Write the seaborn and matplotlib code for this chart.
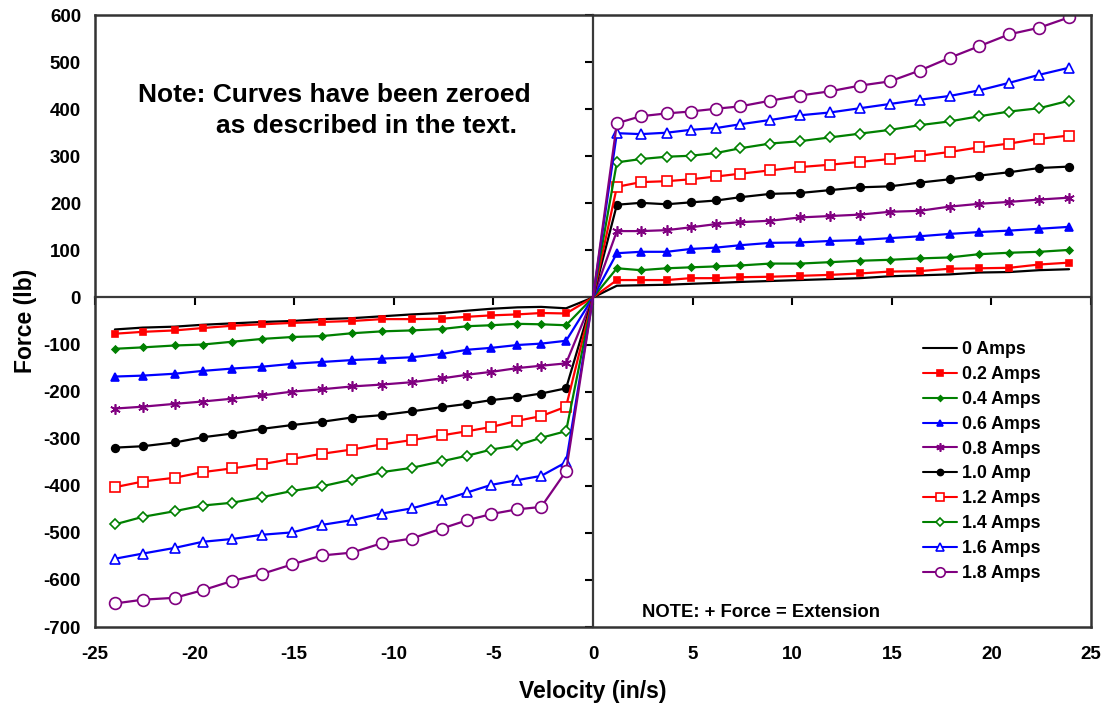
import matplotlib
matplotlib.use("Agg")
import matplotlib.pyplot as plt
import seaborn as sns
import numpy as np
import pandas as pd

sns.set_style("white")
plt.rcParams['font.family'] = ['Liberation Sans', 'DejaVu Sans']
plt.rcParams['font.weight'] = 'bold'
plt.rcParams['text.color'] = 'black'
plt.rcParams['axes.labelcolor'] = 'black'
plt.rcParams['xtick.color'] = 'black'
plt.rcParams['ytick.color'] = 'black'

# ---- data ----
vel_neg = [-24.0, -22.6, -21.0, -19.6, -18.1, -16.6, -15.1, -13.6, -12.1, -10.6,
           -9.1, -7.6, -6.3, -5.1, -3.8, -2.6, -1.35]
vel_pos = [1.2, 2.4, 3.7, 4.9, 6.2, 7.4, 8.9, 10.4, 11.9, 13.4, 14.9, 16.4, 17.9,
           19.4, 20.9, 22.4, 23.9]

amps_0_neg = [-68, -64, -62, -58, -55, -52, -50, -46, -44, -40, -36, -33, -28, -24, -21, -20, -23]
amps_0_pos = [25, 26, 27, 29, 31, 33, 35, 37, 39, 41, 45, 47, 49, 53, 54, 58, 60]
amps_02_neg = [-77, -73, -70, -65, -60, -57, -54, -52, -50, -46, -46, -45, -41, -38, -36, -33, -34]
amps_02_pos = [37, 37, 37, 41, 41, 43, 44, 46, 48, 51, 55, 56, 61, 62, 63, 70, 74]
amps_04_neg = [-109, -106, -102, -100, -94, -88, -84, -82, -76, -72, -70, -67, -61, -59, -56, -57, -59]
amps_04_pos = [62, 58, 62, 64, 66, 68, 72, 72, 75, 78, 80, 83, 85, 92, 95, 97, 101]
amps_06_neg = [-168, -166, -162, -156, -151, -147, -141, -137, -133, -130, -127, -120, -111, -107, -101, -98, -92]
amps_06_pos = [94, 97, 97, 103, 106, 111, 116, 117, 120, 122, 126, 130, 135, 139, 142, 146, 150]
amps_08_neg = [-236, -232, -226, -221, -215, -208, -200, -195, -189, -185, -180, -172, -164, -158, -150, -145, -140]
amps_08_pos = [141, 141, 143, 149, 156, 160, 163, 170, 173, 176, 182, 184, 193, 199, 203, 208, 212]
amps_10_neg = [-319, -316, -308, -297, -289, -279, -271, -264, -255, -250, -242, -233, -226, -218, -212, -204, -193]
amps_10_pos = [197, 201, 198, 202, 206, 213, 220, 222, 228, 234, 236, 244, 251, 259, 266, 275, 278]
amps_12_neg = [-403, -391, -383, -371, -363, -354, -343, -332, -323, -312, -303, -293, -284, -275, -262, -252, -232]
amps_12_pos = [235, 245, 247, 251, 257, 263, 270, 277, 282, 288, 294, 301, 309, 319, 327, 337, 344]
amps_14_neg = [-482, -466, -454, -442, -436, -424, -411, -401, -387, -371, -362, -348, -336, -323, -314, -298, -284]
amps_14_pos = [287, 294, 299, 301, 307, 317, 327, 332, 340, 348, 356, 366, 374, 385, 395, 402, 418]
amps_16_neg = [-555, -544, -532, -519, -513, -504, -499, -483, -473, -459, -448, -431, -414, -398, -388, -379, -350]
amps_16_pos = [349, 347, 350, 356, 360, 368, 377, 387, 393, 402, 411, 420, 428, 440, 456, 473, 488]
amps_18_neg = [-650, -642, -638, -622, -602, -587, -567, -548, -542, -522, -512, -491, -473, -460, -450, -445, -369]
amps_18_pos = [370, 385, 391, 395, 401, 406, 418, 429, 438, 450, 459, 482, 509, 534, 559, 573, 595]

labels = ["0 Amps", "0.2 Amps", "0.4 Amps", "0.6 Amps", "0.8 Amps",
          "1.0 Amp", "1.2 Amps", "1.4 Amps", "1.6 Amps", "1.8 Amps"]
series_neg = [amps_0_neg, amps_02_neg, amps_04_neg, amps_06_neg, amps_08_neg,
              amps_10_neg, amps_12_neg, amps_14_neg, amps_16_neg, amps_18_neg]
series_pos = [amps_0_pos, amps_02_pos, amps_04_pos, amps_06_pos, amps_08_pos,
              amps_10_pos, amps_12_pos, amps_14_pos, amps_16_pos, amps_18_pos]

x_ticks = [-25, -20, -15, -10, -5, 0, 5, 10, 15, 20, 25]
y_ticks = [-700, -600, -500, -400, -300, -200, -100, 0, 100, 200, 300, 400, 500, 600]

# ---- styles ----
RED, GREEN, BLUE, PURPLE = "#FF0000", "#008000", "#0000FF", "#800080"
styles = [
    dict(color="black", marker=None, ms=0, mfc="black"),
    dict(color=RED, marker="s", ms=5, mfc=RED),
    dict(color=GREEN, marker="D", ms=3.5, mfc=GREEN),
    dict(color=BLUE, marker="^", ms=6, mfc=BLUE),
    dict(color=PURPLE, marker=(6, 2, 0), ms=7.5, mfc=PURPLE),
    dict(color="black", marker="o", ms=5.5, mfc="black"),
    dict(color=RED, marker="s", ms=6.5, mfc="white"),
    dict(color=GREEN, marker="D", ms=5.5, mfc="white"),
    dict(color=BLUE, marker="^", ms=7.5, mfc="white"),
    dict(color=PURPLE, marker="o", ms=8.5, mfc="white"),
]

fig = plt.figure(figsize=(11.03, 7.08), dpi=100)
pos = [0.0861, 0.1144, 0.9030, 0.8644]

# background axes: zero-crossing axis lines with tick marks
axb = fig.add_axes(pos)
axb.set_xlim(-25, 25)
axb.set_ylim(-700, 600)
for s in ["top", "right"]:
    axb.spines[s].set_visible(False)
axb.spines["left"].set_position(("data", 0))
axb.spines["bottom"].set_position(("data", 0))
for s in ["left", "bottom"]:
    axb.spines[s].set_color("#3a3a3a")
    axb.spines[s].set_linewidth(1.6)
axb.set_xticks(x_ticks)
axb.set_yticks(y_ticks)
axb.tick_params(axis="both", direction="out", length=6, width=1.5, color="black",
                labelleft=False, labelbottom=False, left=True, bottom=True)
axb.set_facecolor("white")

# main axes
ax = fig.add_axes(pos, sharex=axb, sharey=axb)
ax.set_facecolor("none")
x_all = vel_neg + [0] + vel_pos
mark_idx = [i for i in range(len(x_all)) if x_all[i] != 0]
for lab, neg, p, st in zip(labels, series_neg, series_pos, styles):
    df = pd.DataFrame({"Velocity": x_all, "Force": list(neg) + [0] + list(p)})
    kw = dict(color=st["color"], linewidth=1.6, label=lab, estimator=None, sort=False)
    if st["marker"] is not None:
        kw.update(marker=st["marker"], markersize=st["ms"], markerfacecolor=st["mfc"],
                  markeredgecolor=st["color"], markeredgewidth=1.2, markevery=mark_idx)
    sns.lineplot(data=df, x="Velocity", y="Force", ax=ax, **kw)

ax.set_xlim(-25, 25)
ax.set_ylim(-700, 600)
ax.set_xticks(x_ticks)
ax.set_yticks(y_ticks)
ax.set_xticklabels([str(v) for v in x_ticks])
ax.set_yticklabels([str(v) for v in y_ticks])
ax.tick_params(axis="both", length=0, labelsize=13.5)
ax.tick_params(axis="y", pad=10)
ax.tick_params(axis="x", pad=14)
for t in ax.get_xticklabels() + ax.get_yticklabels():
    t.set_fontweight("bold")
for s in ax.spines.values():
    s.set_visible(True)
    s.set_color("#333333")
    s.set_linewidth(1.8)

ax.set_xlabel("Velocity (in/s)", fontsize=16.5, fontweight="bold", labelpad=12)
ax.set_ylabel("Force (lb)", fontsize=16.5, fontweight="bold", labelpad=5)

ax.text(0.0431, 0.858, "Note: Curves have been zeroed", transform=ax.transAxes,
        fontsize=19, fontweight="bold", ha="left", va="baseline")
ax.text(0.122, 0.807, "as described in the text.", transform=ax.transAxes,
        fontsize=19, fontweight="bold", ha="left", va="baseline")
ax.text(0.549, 0.0168, "NOTE: + Force = Extension", transform=ax.transAxes,
        fontsize=13.3, fontweight="bold", ha="left", va="baseline")

leg = ax.legend(loc="upper left", bbox_to_anchor=(0.817, 0.490), frameon=False,
                fontsize=12.8, handlelength=1.9, handletextpad=0.3,
                labelspacing=0.44, borderpad=0.3, markerscale=0.8)
for t in leg.get_texts():
    t.set_fontweight("bold")
for h in leg.get_lines():
    h.set_linewidth(1.5)

fig.savefig("out.png", dpi=100)
